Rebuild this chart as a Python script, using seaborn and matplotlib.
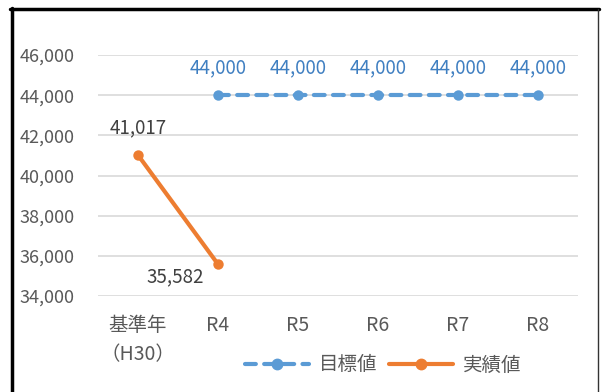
import matplotlib
matplotlib.use("Agg")
import matplotlib.pyplot as plt
import seaborn as sns
import pandas as pd
import numpy as np
from matplotlib.lines import Line2D

categories = ["基準年\n(H30)", "R4", "R5", "R6", "R7", "R8"]
tick_labels = ["基準年\n（H30）", "R4", "R5", "R6", "R7", "R8"]
target = [np.nan, 44000, 44000, 44000, 44000, 44000]
actual = [41017, 35582, np.nan, np.nan, np.nan, np.nan]
series_names = ["目標値", "実績値"]
yticks = [34000, 36000, 38000, 40000, 42000, 44000, 46000]

sns.set_style("white")
plt.rcParams['font.family'] = ['Noto Sans CJK JP', 'DejaVu Sans']

blue = "#5B9BD5"
orange = "#ED7D31"
grey = "#595959"
dash = (0, (2.6, 2.0))

fig = plt.figure(figsize=(6.03, 3.92), dpi=100)
ax = fig.add_axes([98/603, 1-296/392, 480/603, 241/392])

df = pd.DataFrame({"cat": categories, series_names[0]: target, series_names[1]: actual})

dt = df[["cat", series_names[0]]].dropna()
da = df[["cat", series_names[1]]].dropna()
# establish category order
ax.plot(categories, [np.nan]*len(categories))
sns.lineplot(data=dt, x="cat", y=series_names[0], ax=ax, color=blue, lw=3,
             marker="o", markersize=7.5, markeredgewidth=0, sort=False,
             dashes=False, linestyle=dash, dash_capstyle="round")
sns.lineplot(data=da, x="cat", y=series_names[1], ax=ax, color=orange, lw=3,
             marker="o", markersize=7.5, markeredgewidth=0, sort=False)

ax.set_xlim(-0.5, 5.5)
ax.set_ylim(34000, 46000)
ax.set_yticks(yticks)
ax.set_yticklabels([f"{v:,}" for v in yticks])
ax.grid(axis="y", color="#D9D9D9", lw=1.2)
ax.set_axisbelow(True)
for s in ax.spines.values():
    s.set_visible(False)
ax.set_xlabel("")
ax.set_ylabel("")
ax.tick_params(axis="both", length=0, colors=grey)
ax.tick_params(axis="y", pad=17, labelsize=13)
ax.tick_params(axis="x", pad=14, labelsize=14)
ax.set_xticks(range(len(categories)))
ax.set_xticklabels(tick_labels, linespacing=1.45)

for i, v in enumerate(target):
    if not np.isnan(v):
        ax.annotate(f"{v:,}", (i, v), xytext=(0, 19.5), textcoords="offset points",
                    ha="center", va="center", color="#3F7FC1", fontsize=13.5)
ax.annotate(f"{actual[0]:,}", (0, actual[0]), xytext=(0, 19.5), textcoords="offset points",
            ha="center", va="center", color="#404040", fontsize=13.5)
ax.annotate(f"{actual[1]:,}", (1, actual[1]), xytext=(-31, -9), textcoords="offset points",
            ha="center", va="center", color="#404040", fontsize=13.5)

if ax.get_legend():
    ax.get_legend().remove()
handles = [Line2D([], [], color=blue, lw=3, marker="o", markersize=7.5, linestyle=dash,
                  dash_capstyle="round"),
           Line2D([], [], color=orange, lw=3, marker="o", markersize=7.5)]
fig.legend(handles, series_names, loc="center", bbox_to_anchor=(383/603, 1-365/392), ncol=2,
           frameon=False, fontsize=14, handlelength=3.3, columnspacing=0.6, handletextpad=0.5,
           labelcolor=grey)

# outer frame
fig.add_artist(Line2D([11.5/603, 11.5/603], [0, 1-8/392], transform=fig.transFigure, color="black", lw=2.5))
fig.add_artist(Line2D([10/603, 599/603], [1-9/392, 1-9/392], transform=fig.transFigure, color="black", lw=2.5))
fig.add_artist(Line2D([598/603, 598/603], [0, 1-9/392], transform=fig.transFigure, color="#333333", lw=1))

fig.savefig("out.png", dpi=100)
